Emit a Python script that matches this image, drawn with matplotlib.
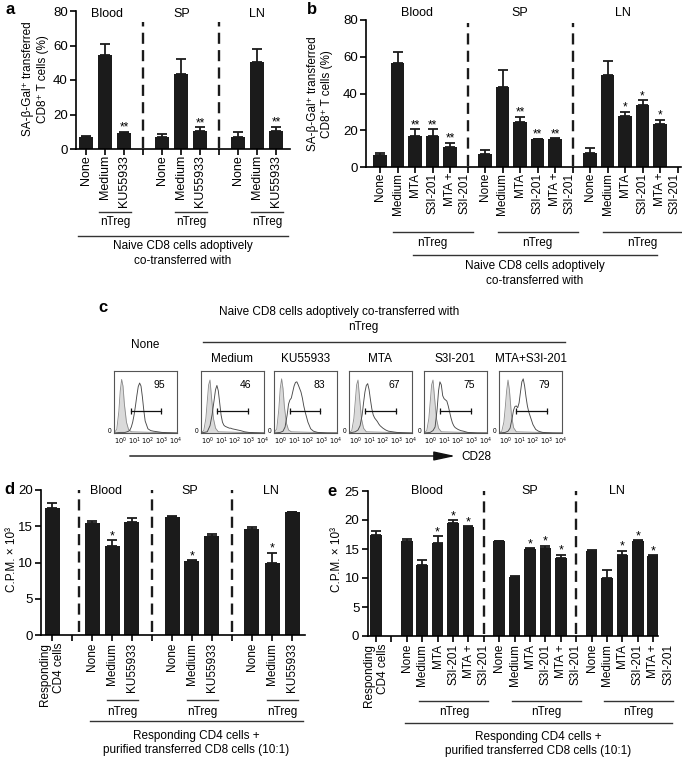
import numpy as np
import matplotlib
matplotlib.use("Agg")
import matplotlib.pyplot as plt
from matplotlib.transforms import blended_transform_factory, ScaledTranslation

plt.rcParams["font.family"] = ["Liberation Sans", "DejaVu Sans"]
plt.rcParams["lines.scale_dashes"] = False

W, H = 682, 758
BAR = "#1b1b1b"

# ── data ────────────────────────────────────────────────────────────────────
ORGANS = ["Blood", "SP", "LN"]

# a: SA-b-Gal+ transferred CD8+ T cells (%)
A_TICKS = ["None", "Medium", "KU55933"]
A_MEAN = [6.7, 54.5, 9.5, 7.0, 43.4, 10.4, 7.1, 50.2, 10.4]
A_ERR = [0.8, 6.3, 0.6, 1.8, 8.8, 2.3, 2.6, 7.6, 2.5]
A_STARS = ["", "", "**", "", "", "**", "", "", "**"]

# b
B_TICKS = ["None", "Medium", "MTA", "S3I-201", "MTA +\nS3I-201"]
B_MEAN = [6.7, 56.4, 17.0, 17.0, 10.9, 7.0, 43.5, 24.7, 15.0, 15.1, 7.5, 50.0, 27.5, 34.0, 23.6]
B_ERR = [1.1, 6.0, 3.6, 3.6, 2.4, 2.0, 9.2, 2.7, 0.5, 0.5, 2.6, 7.6, 2.6, 2.4, 2.2]
B_STARS = ["", "", "**", "**", "**", "", "", "**", "**", "**", "", "", "*", "*", "*"]

# c: CD28 histograms (x in log10 decades, y as fraction of the box height)
C_TITLES = ["None", "Medium", "KU55933", "MTA", "S3I-201", "MTA+S3I-201"]
CD28_PCT = [95, 46, 83, 67, 75, 79]
GATE_LO = [0.75, 0.72, 0.67, 0.72, 0.74, 0.81]
GATE_HI = [2.96, 2.96, 2.90, 2.95, 2.93, 3.00]
ISO_X = [-0.45, -0.25, -0.1, 0.0, 0.1, 0.2, 0.3, 0.45, 0.6, 0.8, 4.1]
ISO_Y = [
    [0, 0.06, 0.36, 0.70, 0.89, 0.78, 0.48, 0.18, 0.06, 0.02, 0],
    [0, 0.04, 0.24, 0.52, 0.80, 0.88, 0.62, 0.24, 0.08, 0.02, 0],
    [0, 0.07, 0.40, 0.74, 0.90, 0.74, 0.44, 0.16, 0.05, 0.02, 0],
    [0, 0.04, 0.24, 0.52, 0.80, 0.88, 0.62, 0.24, 0.08, 0.02, 0],
    [0, 0.04, 0.24, 0.52, 0.80, 0.88, 0.62, 0.24, 0.08, 0.02, 0],
    [0, 0.03, 0.18, 0.42, 0.70, 0.88, 0.72, 0.30, 0.09, 0.02, 0],
]
STAIN_X = [-0.45, 0.0, 0.2, 0.35, 0.5, 0.6, 0.7, 0.8, 0.9, 1.0, 1.1, 1.2, 1.3,
           1.4, 1.5, 1.6, 1.7, 1.8, 2.0, 2.2, 2.4, 2.7, 3.0, 3.4, 4.1]
STAIN_Y = [
    [0, 0.01, 0.01, 0.01, 0.02, 0.03, 0.05, 0.10, 0.18, 0.30, 0.45, 0.62, 0.77,
     0.83, 0.78, 0.60, 0.38, 0.20, 0.07, 0.04, 0.03, 0.02, 0.01, 0.005, 0],
    [0, 0.02, 0.12, 0.30, 0.55, 0.72, 0.79, 0.70, 0.50, 0.30, 0.18, 0.13, 0.11,
     0.10, 0.09, 0.08, 0.08, 0.07, 0.06, 0.05, 0.04, 0.02, 0.01, 0.005, 0],
    [0, 0.01, 0.03, 0.10, 0.30, 0.48, 0.55, 0.58, 0.68, 0.78, 0.84, 0.85, 0.80,
     0.74, 0.68, 0.58, 0.45, 0.35, 0.18, 0.07, 0.03, 0.01, 0.005, 0, 0],
    [0, 0.02, 0.05, 0.12, 0.30, 0.50, 0.68, 0.79, 0.82, 0.72, 0.55, 0.40, 0.30,
     0.25, 0.22, 0.19, 0.15, 0.12, 0.08, 0.05, 0.03, 0.02, 0.01, 0.005, 0],
    [0, 0.01, 0.04, 0.10, 0.40, 0.70, 0.85, 0.80, 0.62, 0.57, 0.55, 0.53, 0.45,
     0.35, 0.25, 0.17, 0.12, 0.09, 0.06, 0.04, 0.03, 0.01, 0.005, 0, 0],
    [0, 0.01, 0.03, 0.08, 0.25, 0.38, 0.44, 0.45, 0.42, 0.50, 0.68, 0.85, 0.90,
     0.78, 0.60, 0.45, 0.35, 0.28, 0.14, 0.06, 0.03, 0.01, 0.005, 0, 0],
]

# d: C.P.M. x 10^3
RESP_LABEL = "Responding\nCD4 cells"
D_RESP = [17.5]
D_RESP_ERR = [0.7]
D_TICKS = ["None", "Medium", "KU55933"]
D_MEAN = [15.4, 12.3, 15.6, 16.3, 10.2, 13.7, 14.6, 10.0, 16.9]
D_ERR = [0.3, 0.8, 0.5, 0.1, 0.15, 0.3, 0.35, 1.35, 0.1]
D_STARS = ["", "*", "", "", "*", "", "", "*", ""]

# e
E_RESP = [17.5]
E_RESP_ERR = [0.6]
E_TICKS = ["None", "Medium", "MTA", "S3I-201", "MTA +\nS3I-201"]
E_MEAN = [16.4, 12.3, 16.1, 19.5, 18.8, 16.3, 10.2, 15.0, 15.2, 13.5, 14.6, 10.0, 14.0, 16.4, 13.8]
E_ERR = [0.3, 0.8, 1.1, 0.5, 0.1, 0.1, 0.15, 0.15, 0.4, 0.5, 0.3, 1.35, 0.7, 0.1, 0.1]
E_STARS = ["", "", "*", "*", "*", "", "", "*", "*", "*", "", "", "*", "*", "*"]

CAPTION_AB = "Naive CD8 cells adoptively\nco-transferred with"
CAPTION_DE = "Responding CD4 cells +\npurified transferred CD8 cells (10:1)"


def rect(l, t, r, b):
    return [l / W, 1 - b / H, (r - l) / W, (b - t) / H]


def fy(y):
    return 1 - y / H


fig = plt.figure(figsize=(W / 100, H / 100), dpi=100)


def bar_panel(ax, pos, mean, err, stars, seps, sep_top, ylim, yticks, xlim,
              star_fs=8.5):
    ax.bar(pos, mean, width=0.75, color=BAR, zorder=2)
    ax.errorbar(pos, mean, yerr=[np.zeros(len(mean)), err], fmt="none",
                ecolor=BAR, elinewidth=1.3, capsize=3.3, capthick=1.3, zorder=2)
    for p, m, e, s in zip(pos, mean, err, stars):
        if s:
            ax.annotate(s, (p, m + e), xytext=(0, -1.5), textcoords="offset points",
                        ha="center", va="bottom", fontsize=star_fs)
    for s in seps:
        ax.plot([s, s], [0.4, sep_top], color=BAR, lw=1.7, dashes=(8, 4.5),
                clip_on=False)
    ax.set_xlim(*xlim)
    ax.set_ylim(*ylim)
    ax.set_yticks(yticks)
    ax.set_xticks(np.arange(0, int(xlim[1]) + 1))
    ax.set_xticklabels([])
    for sp in ["top", "right"]:
        ax.spines[sp].set_visible(False)
    for sp in ["left", "bottom"]:
        ax.spines[sp].set_linewidth(1.2)
    ax.tick_params(length=4, width=1.2, labelsize=9.5, pad=2)


def tick_texts(ax, pos, labels, fs, pad_px, shift_px=7.5):
    tr = blended_transform_factory(ax.transData, ax.transAxes)
    for p, lab in zip(pos, labels):
        dx = shift_px if lab.startswith("MTA +") else 0
        off = ScaledTranslation(dx / 100, -pad_px / 100, fig.dpi_scale_trans)
        ax.text(p, 0, lab, transform=tr + off, rotation=90, ha="center", va="top",
                multialignment="right", fontsize=fs, linespacing=1.3)


def bracket(ax, x0, x1, y_px, label=None, label_y=None, fs=8.5):
    tr = blended_transform_factory(ax.transData, fig.transFigure)
    ax.plot([x0, x1], [fy(y_px), fy(y_px)], transform=tr, color="#333333",
            lw=1.0, clip_on=False)
    if label:
        ax.text((x0 + x1) / 2, fy(label_y), label, transform=tr, ha="center",
                va="center", fontsize=fs, linespacing=1.3)


def group_labels(ax, xs, y_axes, fs=9):
    for x, name in zip(xs, ORGANS):
        ax.text(x, y_axes, name, transform=blended_transform_factory(ax.transData, ax.transAxes),
                ha="center", va="center", fontsize=fs)


# ── panel a ────────────────────────────────────────────────────────────────
ax_a = fig.add_axes(rect(76, 11, 290, 149))
a_pos = [g * 4 + i for g in range(3) for i in range(3)]
bar_panel(ax_a, a_pos, A_MEAN, A_ERR, A_STARS, [3, 7], 73.5, (0, 80),
          [0, 20, 40, 60, 80], (-0.53, 10.74))
tick_texts(ax_a, a_pos, A_TICKS * 3, 9, 6)
group_labels(ax_a, [1.1, 5.05, 9.0], 0.978)
for g in range(3):
    bracket(ax_a, g * 4 + 1 - 0.3, g * 4 + 2 + 0.37, 212, "nTreg", 222)
bracket(ax_a, -0.42, 10.63, 236, CAPTION_AB, 253.5)
fig.text(35.5 / W, fy(79), "SA-β-Gal⁺ transferred\nCD8⁺ T cells (%)", rotation=90,
         ha="center", va="center", fontsize=8.5, linespacing=1.3)
fig.text(10 / W, fy(10), "a", fontsize=12, fontweight="bold", ha="center", va="center")

# ── panel b ────────────────────────────────────────────────────────────────
ax_b = fig.add_axes(rect(366, 20, 681, 167))
b_pos = [g * 6 + i for g in range(3) for i in range(5)]
bar_panel(ax_b, b_pos, B_MEAN, B_ERR, B_STARS, [5, 11], 78.5, (0, 80),
          [0, 20, 40, 60, 80], (-0.8, 17.2))
tick_texts(ax_b, b_pos, B_TICKS * 3, 8.5, 6)
group_labels(ax_b, [2.1, 8.0, 13.9], 1.048)
for g in range(3):
    bracket(ax_b, g * 6 + 1 - 0.28, g * 6 + 4 + 1.3, 232, "nTreg", 243)
bracket(ax_b, 1.9, 15.8, 255, CAPTION_AB, 273.5)
fig.text(320 / W, fy(94), "SA-β-Gal⁺ transferred\nCD8⁺ T cells (%)", rotation=90,
         ha="center", va="center", fontsize=8.5, linespacing=1.3)
fig.text(312 / W, fy(9), "b", fontsize=12, fontweight="bold", ha="center", va="center")

# ── panel c ────────────────────────────────────────────────────────────────
fig.text(103 / W, fy(307), "c", fontsize=12, fontweight="bold", ha="center", va="center")
fig.text(339 / W, fy(312), "Naive CD8 cells adoptively co-transferred with",
         ha="center", va="center", fontsize=8.5)
fig.text(363 / W, fy(327), "nTreg", ha="center", va="center", fontsize=8.5)
fig.add_artist(plt.Line2D([203 / W, 565 / W], [fy(342), fy(342)], color="#333333", lw=1.0))
c_left = [114, 201, 274, 349, 424, 499]
for k, left in enumerate(c_left):
    axh = fig.add_axes(rect(left, 371, left + 63, 433))
    axh.fill_between(ISO_X, ISO_Y[k], color="#dadada", lw=0)
    axh.plot(ISO_X, ISO_Y[k], color="#8a8a8a", lw=0.6)
    axh.plot(STAIN_X, STAIN_Y[k], color="#4a4a4a", lw=0.65)
    axh.plot([GATE_LO[k], GATE_HI[k]], [0.37, 0.37], color="#111111", lw=0.9,
             marker="|", ms=5, mew=0.9)
    axh.text(2.8, 0.8, str(CD28_PCT[k]), ha="center", va="center", fontsize=7.5)
    axh.set_xlim(-0.45, 4.1)
    axh.set_ylim(0, 1.03)
    axh.set_xticks(range(5))
    axh.set_xticklabels([f"$10^{d}$" for d in range(5)], fontsize=4.8)
    axh.set_yticks([0.04])
    axh.set_yticklabels(["0"], fontsize=4.8)
    axh.tick_params(length=0, pad=2)
    for sp in axh.spines.values():
        sp.set_linewidth(0.8)
        sp.set_color("#555555")
    title_y = 345 if k == 0 else 359
    fig.text((left + 31.5) / W, fy(title_y), C_TITLES[k], ha="center", va="center",
             fontsize=8.5)
fig.add_artist(matplotlib.patches.FancyArrowPatch(
    (127 / W, fy(456)), (458 / W, fy(456)), transform=fig.transFigure,
    arrowstyle="-|>,head_length=1.3,head_width=0.28", mutation_scale=10,
    color="#111111", lw=1.0))
fig.text(461 / W, fy(457), "CD28", ha="left", va="center", fontsize=8.5)

# ── panel d ────────────────────────────────────────────────────────────────
ax_d = fig.add_axes(rect(41, 490, 305, 635))
d_pos = [2 + g * 4 + i for g in range(3) for i in range(3)]
bar_panel(ax_d, [0] + d_pos, D_RESP + D_MEAN, D_RESP_ERR + D_ERR, [""] + D_STARS,
          [1.35, 5, 9], 20, (0, 20), [0, 5, 10, 15, 20], (-0.55, 12.65), star_fs=9)
tick_texts(ax_d, [0] + d_pos, [RESP_LABEL] + D_TICKS * 3, 8.5, 8)
group_labels(ax_d, [2.7, 6.9, 10.95], 0.993)
for g in range(3):
    bracket(ax_d, 2 + g * 4 + 1 - 0.25, 2 + g * 4 + 2 + 0.32, 700, "nTreg", 712)
bracket(ax_d, 1.9, 12.55, 721, CAPTION_DE, 743)
fig.text(12 / W, fy(560), "C.P.M. × 10³", rotation=90, ha="center", va="center",
         fontsize=8.5)
fig.text(9 / W, fy(490), "d", fontsize=12, fontweight="bold", ha="center", va="center")

# ── panel e ────────────────────────────────────────────────────────────────
ax_e = fig.add_axes(rect(367.7, 491, 658, 636))
e_pos = [2 + g * 6 + i for g in range(3) for i in range(5)]
bar_panel(ax_e, [0] + e_pos, E_RESP + E_MEAN, E_RESP_ERR + E_ERR, [""] + E_STARS,
          [7, 13], 25, (0, 25), [0, 5, 10, 15, 20, 25], (-0.54, 18.31), star_fs=9)
tick_texts(ax_e, [0] + e_pos, [RESP_LABEL] + E_TICKS * 3, 8.5, 8)
group_labels(ax_e, [3.3, 10.0, 15.65], 1.0)
for g in range(3):
    bracket(ax_e, 2 + g * 6 + 1 - 0.2, 2 + g * 6 + 4 + 1.3, 700.7, "nTreg", 711.7)
bracket(ax_e, 1.88, 19.2, 722.7, CAPTION_DE, 744)
fig.text(337 / W, fy(560), "C.P.M. × 10³", rotation=90, ha="center", va="center",
         fontsize=8.5)
fig.text(332 / W, fy(491), "e", fontsize=12, fontweight="bold", ha="center", va="center")

fig.savefig("out.png", dpi=100)
